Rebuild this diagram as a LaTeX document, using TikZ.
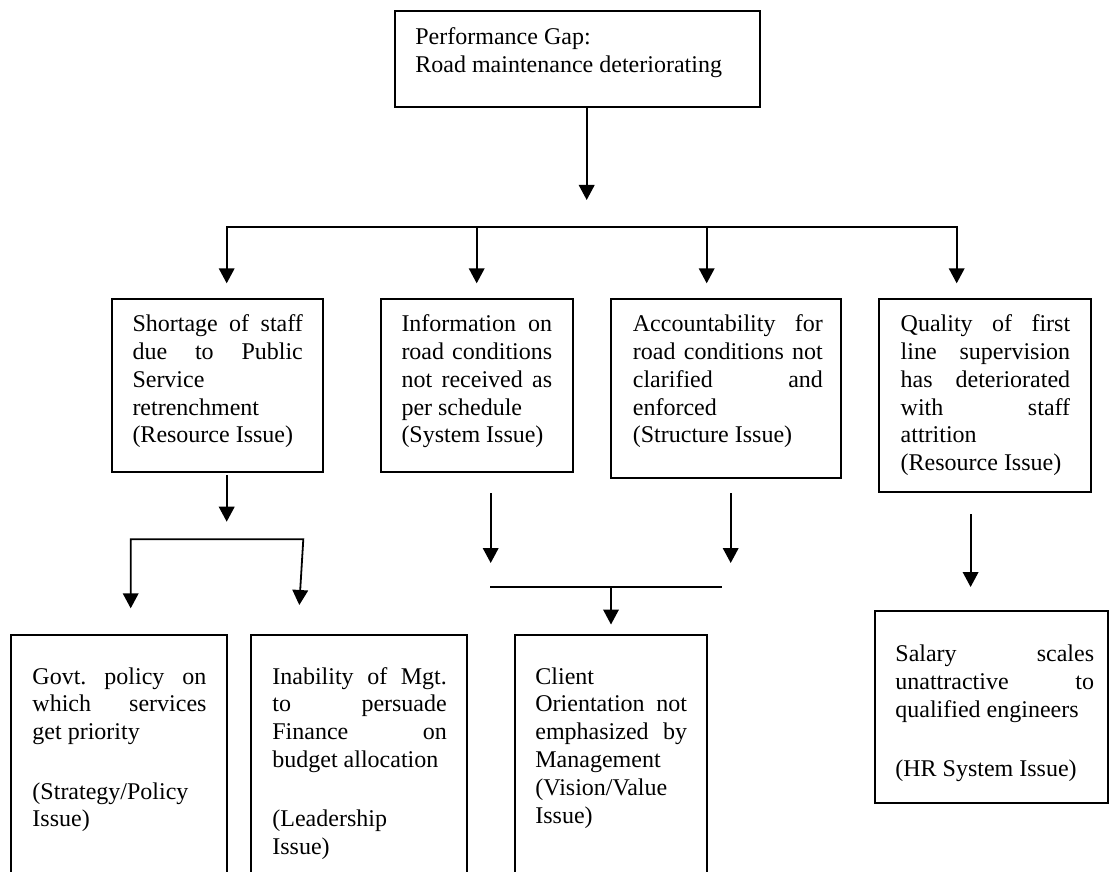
\documentclass[tikz,border=0pt]{standalone}
\usepackage{fontspec}
\setmainfont{Liberation Serif}
\usetikzlibrary{arrows.meta,fit,calc}
% one fully justified line of a box text (spaces share the spare width)
\newcommand{\jl}[1]{\leavevmode\hbox to \hsize{\spaceskip=0.25em plus 1fil\xspaceskip=0.25em plus 1fil\relax #1}}
% plain word spacing for the ragged lines
\newcommand{\nsp}{\spaceskip=0.25em\xspaceskip=0.25em\relax}
\frenchspacing

\begin{document}
\begin{tikzpicture}[x=0.5pt,y=-0.5pt,
  box/.style={draw, line width=1pt, inner sep=0pt},
  txt/.style={anchor=base west, inner sep=0pt, align=left,
              font=\fontsize{12pt}{13.9pt}\selectfont},
  link/.style={line width=0.9pt},
  tip/.tip={Triangle[width=7.8pt,length=7.5pt]},
  arr/.style={link, -tip},
  arrs/.style={link, tip-tip, line join=miter}]

\useasboundingbox (0,0) rectangle (1109,872);
\fill[white] (0,0) rectangle (1109,872);
\clip (0,0) rectangle (1109,872);

% ---- boxes ----
\node[box, fit={(394.7,10.7) (760,106.7)}] (top) {};
\node[box, fit={(111.7,299) (322.7,471.7)}] (b1) {};
\node[box, fit={(380.7,299) (572.7,471.7)}] (b2) {};
\node[box, fit={(611,299) (841,477.7)}] (b3) {};
\node[box, fit={(879.3,299) (1090.7,492)}] (b4) {};
\node[box, fit={(10.7,635) (226.8,900)}] (c1) {};
\node[box, fit={(251,635) (466.8,900)}] (c2) {};
\node[box, fit={(515,635) (706.6,900)}] (c3) {};
\node[box, fit={(875,611) (1107.5,802.5)}] (c4) {};

% ---- box texts ----
\node[txt, text width=160pt] (topT) at (415,45)
  {\nsp Performance Gap:\\Road maintenance deteriorating};
\node[txt, text width=85.2pt] (b1T) at (132.1,331.7)
  {\nsp\jl{Shortage of staff}\\\jl{due to Public}\\Service\\retrenchment\\(Resource Issue)};
\node[txt, text width=75.35pt] (b2T) at (401.1,331.7)
  {\nsp\jl{Information on}\\\jl{road conditions}\\\jl{not received as}\\per schedule\\(System Issue)};
\node[txt, text width=95pt] (b3T) at (632.5,331.7)
  {\nsp\jl{Accountability for}\\\jl{road conditions not}\\\jl{clarified and}\\enforced\\(Structure Issue)};
\node[txt, text width=84.75pt] (b4T) at (900.3,331.7)
  {\nsp\jl{Quality of first}\\\jl{line supervision}\\\jl{has deteriorated}\\\jl{with staff}\\attrition\\(Resource Issue)};
\node[txt, text width=87pt] (c1T) at (32.1,684)
  {\nsp\jl{Govt. policy on}\\\jl{which services}\\get priority\\[15.8pt](Strategy/Policy\\Issue)};
\node[txt, text width=87.2pt] (c2T) at (272,684)
  {\nsp\jl{Inability of Mgt.}\\\jl{to persuade}\\\jl{Finance on}\\budget allocation\\[15.8pt](Leadership\\Issue)};
\node[txt, text width=75.8pt] (c3T) at (535,684)
  {\nsp Client\\\jl{Orientation not}\\\jl{emphasized by}\\Management\\(Vision/Value\\Issue)};
\node[txt, text width=99.35pt] (c4T) at (895,661.7)
  {\nsp\jl{Salary scales}\\\jl{unattractive to}\\qualified engineers\\[15.8pt](HR System Issue)};

% ---- connector points ----
\coordinate (j0)   at (586.7,200);
\coordinate (barL) at (226.7,226.7);
\coordinate (barB) at (476.7,226.7);
\coordinate (barC) at (706.7,226.7);
\coordinate (barR) at (956.7,226.7);
\coordinate (t1) at (226.7,283.3);
\coordinate (t2) at (476.7,283.3);
\coordinate (t3) at (706.7,283.3);
\coordinate (t4) at (956.7,283.3);

\coordinate (s1) at (226.7,475);
\coordinate (e1) at (226.7,521.7);
\coordinate (kL) at (130.7,539.3);
\coordinate (kR) at (303.3,539.3);
\coordinate (pL) at (130.7,608.3);
\coordinate (pR) at (299.3,605);

\coordinate (m1s) at (490.7,493);
\coordinate (m1e) at (490.7,563);
\coordinate (m2s) at (730.7,493);
\coordinate (m2e) at (730.7,563);
\coordinate (mL) at (490,586.7);
\coordinate (mR) at (721.7,586.7);
\coordinate (mC) at (611,586.7);
\coordinate (mT) at (611,624.5);

\coordinate (q1s) at (970.6,514);
\coordinate (q1e) at (970.6,587);

% ---- connectors ----
\draw[arr] (top.south -| j0) -- (j0);
\draw[arrs] (t1) -- (barL) -- (barR) -- (t4);
\draw[arr] (barB) -- (t2);
\draw[arr] (barC) -- (t3);

\draw[arr] (s1) -- (e1);
\draw[arrs] (pL) -- (kL) -- (kR) -- (pR);

\draw[arr] (m1s) -- (m1e);
\draw[arr] (m2s) -- (m2e);
\draw[link] (mL) -- (mR);
\draw[arr] (mC) -- (mT);

\draw[arr] (q1s) -- (q1e);
\end{tikzpicture}
\end{document}
